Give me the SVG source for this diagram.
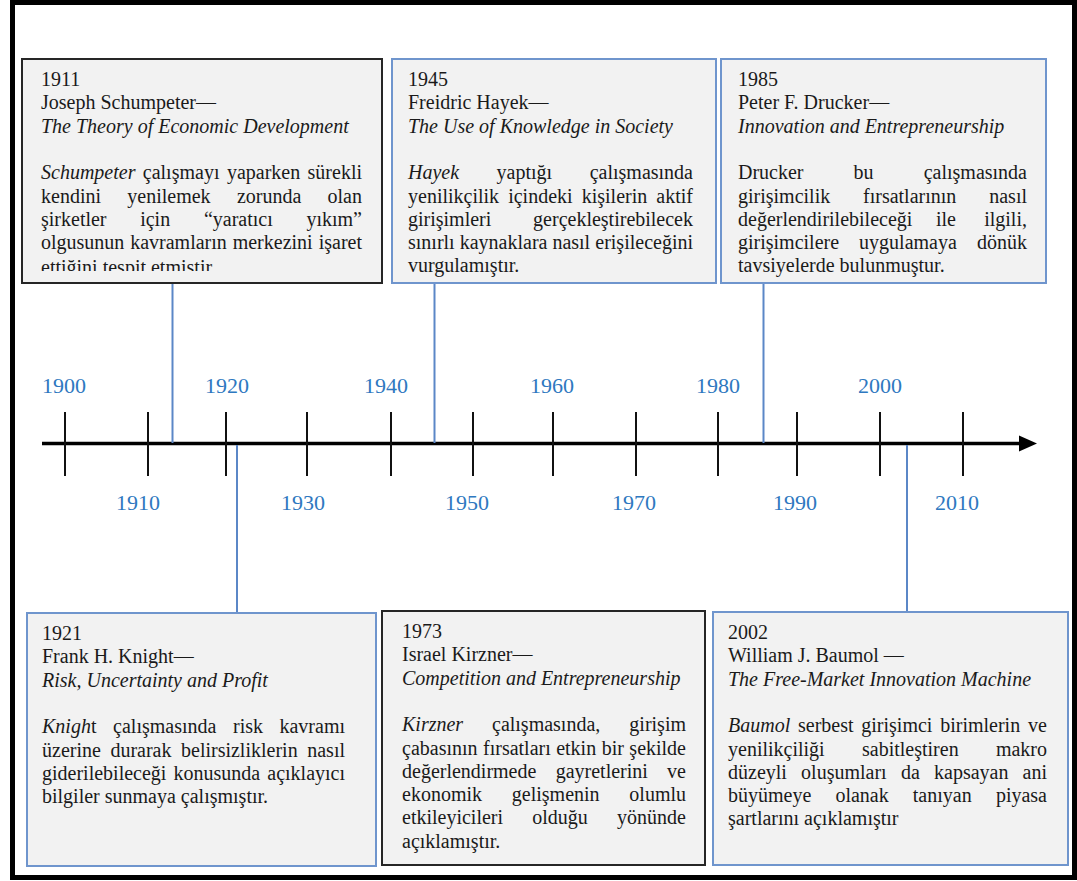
<svg xmlns="http://www.w3.org/2000/svg" width="1077" height="881" viewBox="0 0 1077 881">
  <style>
    .frame { fill: #ffffff; stroke: #000000; stroke-width: 5; }
    .box { fill: #f2f2f2; stroke-width: 2; }
    .box-dark { stroke: #262626; }
    .box-blue { stroke: #6f95cd; }
    .t { font-family: "Liberation Serif", Tinos, "Times New Roman", serif; font-size: 20px; fill: #1a1a1a; }
    .i { font-style: italic; }
    .yr { font-family: "Liberation Serif", Tinos, "Times New Roman", serif; font-size: 22px; fill: #2e78c0; text-anchor: middle; }
    .axis { stroke: #000000; stroke-width: 3.5; }
    .tick { stroke: #111111; stroke-width: 2; }
    .link { stroke: #5b87c7; stroke-width: 2; fill: none; }
  </style>
  <defs>
    <clipPath id="clip-1911">
      <rect x="22" y="59" width="360" height="212"/>
    </clipPath>
  </defs>

  <!-- outer frame -->
  <rect class="frame" x="12.5" y="2.5" width="1062" height="875"/>

  <!-- timeline axis -->
  <g id="axis">
    <line class="axis" x1="42" y1="443.5" x2="1022" y2="443.5"/>
    <polygon points="1019,435.5 1037,443.5 1019,451.5" fill="#000000"/>
    <g class="tick">
      <line x1="65" y1="412" x2="65" y2="476"/>
      <line x1="148" y1="412" x2="148" y2="476"/>
      <line x1="226" y1="412" x2="226" y2="476"/>
      <line x1="307" y1="412" x2="307" y2="476"/>
      <line x1="391" y1="412" x2="391" y2="476"/>
      <line x1="473" y1="412" x2="473" y2="476"/>
      <line x1="553" y1="412" x2="553" y2="476"/>
      <line x1="636" y1="412" x2="636" y2="476"/>
      <line x1="718" y1="412" x2="718" y2="476"/>
      <line x1="797" y1="412" x2="797" y2="476"/>
      <line x1="880" y1="412" x2="880" y2="476"/>
      <line x1="963" y1="412" x2="963" y2="476"/>
    </g>
    <text class="yr" x="64" y="393">1900</text>
    <text class="yr" x="227" y="393">1920</text>
    <text class="yr" x="386" y="393">1940</text>
    <text class="yr" x="552" y="393">1960</text>
    <text class="yr" x="718" y="393">1980</text>
    <text class="yr" x="880" y="393">2000</text>
    <text class="yr" x="138" y="510">1910</text>
    <text class="yr" x="303" y="510">1930</text>
    <text class="yr" x="467" y="510">1950</text>
    <text class="yr" x="634" y="510">1970</text>
    <text class="yr" x="795" y="510">1990</text>
    <text class="yr" x="957" y="510">2010</text>
  </g>

  <!-- connectors from the boxes to the axis -->
  <g id="connectors">
    <line class="link" x1="172.5" y1="283" x2="172.5" y2="443"/>
    <line class="link" x1="434.5" y1="283" x2="434.5" y2="443"/>
    <line class="link" x1="763.5" y1="283" x2="763.5" y2="443"/>
    <line class="link" x1="237" y1="445" x2="237" y2="612"/>
    <line class="link" x1="907" y1="445" x2="907" y2="611"/>
  </g>

  <!-- 1911 Schumpeter -->
  <g id="node-1911">
    <rect class="box box-dark" x="22" y="59" width="360" height="224"/>
    <g clip-path="url(#clip-1911)">
      <text class="t" x="41" y="86">1911</text>
      <text class="t" x="41" y="109.3">Joseph Schumpeter—</text>
      <text class="t i" x="41" y="132.6">The Theory of Economic Development</text>
      <text class="t" y="179.2"><tspan x="41" class="i">Schumpeter</tspan><tspan x="142.8">çalışmayı</tspan><tspan x="226.9">yaparken</tspan><tspan x="362" text-anchor="end">sürekli</tspan></text>
      <text class="t" y="202.5"><tspan x="41">kendini</tspan><tspan x="127.3">yenilemek</tspan><tspan x="236.9">zorunda</tspan><tspan x="362" text-anchor="end">olan</tspan></text>
      <text class="t" y="225.8"><tspan x="41">şirketler</tspan><tspan x="140.2">için</tspan><tspan x="203.9">“yaratıcı</tspan><tspan x="362" text-anchor="end">yıkım”</tspan></text>
      <text class="t" y="249.1"><tspan x="41">olgusunun</tspan><tspan x="130.2">kavramların</tspan><tspan x="232.7">merkezini</tspan><tspan x="362" text-anchor="end">işaret</tspan></text>
      <text class="t" x="41" y="273.5">ettiğini tespit etmiştir</text>
    </g>
  </g>

  <!-- 1945 Hayek -->
  <g id="node-1945">
    <rect class="box box-blue" x="392" y="59" width="324" height="224"/>
    <text class="t" x="408" y="86">1945</text>
    <text class="t" x="408" y="109.3">Freidric Hayek—</text>
    <text class="t i" x="408" y="132.6">The Use of Knowledge in Society</text>
    <text class="t" y="179.2"><tspan x="408" class="i">Hayek</tspan><tspan x="496.6">yaptığı</tspan><tspan x="693" text-anchor="end">çalışmasında</tspan></text>
    <text class="t" y="202.5"><tspan x="408">yenilikçilik</tspan><tspan x="508.2">içindeki</tspan><tspan x="581.7">kişilerin</tspan><tspan x="693" text-anchor="end">aktif</tspan></text>
    <text class="t" y="225.8"><tspan x="408">girişimleri</tspan><tspan x="693" text-anchor="end">gerçekleştirebilecek</tspan></text>
    <text class="t" y="249.1"><tspan x="408">sınırlı</tspan><tspan x="459.7">kaynaklara</tspan><tspan x="552.4">nasıl</tspan><tspan x="693" text-anchor="end">erişileceğini</tspan></text>
    <text class="t" x="408" y="272.4">vurgulamıştır.</text>
  </g>

  <!-- 1985 Drucker -->
  <g id="node-1985">
    <rect class="box box-blue" x="721" y="59" width="325" height="224"/>
    <text class="t" x="738" y="86">1985</text>
    <text class="t" x="738" y="109.3">Peter F. Drucker—</text>
    <text class="t i" x="738" y="132.6">Innovation and Entrepreneurship</text>
    <text class="t" y="179.2"><tspan x="738">Drucker</tspan><tspan x="853.6">bu</tspan><tspan x="1027" text-anchor="end">çalışmasında</tspan></text>
    <text class="t" y="202.5"><tspan x="738">girişimcilik</tspan><tspan x="863">fırsatlarının</tspan><tspan x="1027" text-anchor="end">nasıl</tspan></text>
    <text class="t" y="225.8"><tspan x="738">değerlendirilebileceği</tspan><tspan x="935.9">ile</tspan><tspan x="1027" text-anchor="end">ilgili,</tspan></text>
    <text class="t" y="249.1"><tspan x="738">girişimcilere</tspan><tspan x="859.1">uygulamaya</tspan><tspan x="1027" text-anchor="end">dönük</tspan></text>
    <text class="t" x="738" y="272.4">tavsiyelerde bulunmuştur.</text>
  </g>

  <!-- 1921 Knight -->
  <g id="node-1921">
    <rect class="box box-blue" x="27" y="613" width="349" height="253"/>
    <text class="t" x="42" y="640">1921</text>
    <text class="t" x="42" y="663.3">Frank H. Knight—</text>
    <text class="t i" x="42" y="686.6">Risk, Uncertainty and Profit</text>
    <text class="t" y="733.2"><tspan x="42" class="i">Knigh</tspan><tspan>t</tspan><tspan x="113.1">çalışmasında</tspan><tspan x="233">risk</tspan><tspan x="345" text-anchor="end">kavramı</tspan></text>
    <text class="t" y="756.5"><tspan x="42">üzerine</tspan><tspan x="110.4">durarak</tspan><tspan x="181">belirsizliklerin</tspan><tspan x="345" text-anchor="end">nasıl</tspan></text>
    <text class="t" y="779.8"><tspan x="42">giderilebileceği</tspan><tspan x="173.5">konusunda</tspan><tspan x="345" text-anchor="end">açıklayıcı</tspan></text>
    <text class="t" x="42" y="803.1">bilgiler sunmaya çalışmıştır.</text>
  </g>

  <!-- 1973 Kirzner -->
  <g id="node-1973">
    <rect class="box box-dark" x="382" y="611" width="323" height="254"/>
    <text class="t" x="402" y="638">1973</text>
    <text class="t" x="402" y="661.3">Israel Kirzner—</text>
    <text class="t i" x="402" y="684.6">Competition and Entrepreneurship</text>
    <text class="t" y="731.2"><tspan x="402" class="i">Kirzner</tspan><tspan x="492">çalışmasında,</tspan><tspan x="686" text-anchor="end">girişim</tspan></text>
    <text class="t" y="754.5"><tspan x="402">çabasının</tspan><tspan x="483">fırsatları</tspan><tspan x="556.2">etkin</tspan><tspan x="601.7">bir</tspan><tspan x="686" text-anchor="end">şekilde</tspan></text>
    <text class="t" y="777.8"><tspan x="402">değerlendirmede</tspan><tspan x="555.7">gayretlerini</tspan><tspan x="686" text-anchor="end">ve</tspan></text>
    <text class="t" y="801.1"><tspan x="402">ekonomik</tspan><tspan x="511.8">gelişmenin</tspan><tspan x="686" text-anchor="end">olumlu</tspan></text>
    <text class="t" y="824.4"><tspan x="402">etkileyicileri</tspan><tspan x="532.3">olduğu</tspan><tspan x="686" text-anchor="end">yönünde</tspan></text>
    <text class="t" x="402" y="847.7">açıklamıştır.</text>
  </g>

  <!-- 2002 Baumol -->
  <g id="node-2002">
    <rect class="box box-blue" x="713" y="612" width="355" height="253"/>
    <text class="t" x="728" y="639">2002</text>
    <text class="t" x="728" y="662.3">William J. Baumol —</text>
    <text class="t i" x="728" y="685.6">The Free-Market Innovation Machine</text>
    <text class="t" y="732.2"><tspan x="728" class="i">Baumol</tspan><tspan x="798">serbest</tspan><tspan x="861.3">girişimci</tspan><tspan x="940.2">birimlerin</tspan><tspan x="1047" text-anchor="end">ve</tspan></text>
    <text class="t" y="755.5"><tspan x="728">yenilikçiliği</tspan><tspan x="862">sabitleştiren</tspan><tspan x="1047" text-anchor="end">makro</tspan></text>
    <text class="t" y="778.8"><tspan x="728">düzeyli</tspan><tspan x="801.1">oluşumları</tspan><tspan x="900.9">da</tspan><tspan x="934">kapsayan</tspan><tspan x="1047" text-anchor="end">ani</tspan></text>
    <text class="t" y="802.1"><tspan x="728">büyümeye</tspan><tspan x="835.4">olanak</tspan><tspan x="912.8">tanıyan</tspan><tspan x="1047" text-anchor="end">piyasa</tspan></text>
    <text class="t" x="728" y="825.4">şartlarını açıklamıştır</text>
  </g>
</svg>
